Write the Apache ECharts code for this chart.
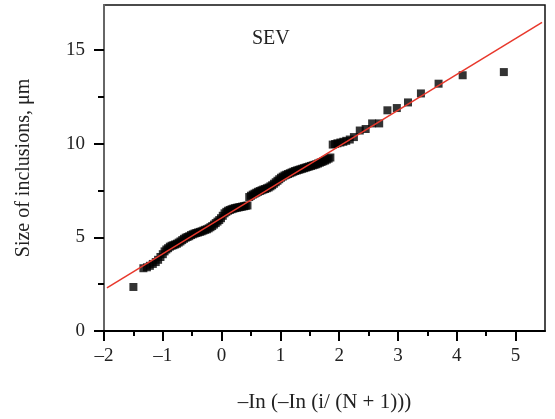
<!DOCTYPE html>
<html>
<head>
<meta charset="utf-8">
<script src="https://cdn.jsdelivr.net/npm/echarts@6/dist/echarts.min.js"></script>
<style>
html,body{margin:0;padding:0;background:#fff;}
#chart{width:555px;height:419px;}
</style>
</head>
<body>
<div id="chart"></div>
<script>
// Reduced variate (x) and inclusion size (y)
var pointsX = [-1.50,
 -1.33,-1.27,-1.22,-1.17,-1.12,-1.08,-1.04,-1.00,-0.97,-0.94,-0.91,-0.88,-0.85,-0.82,-0.79,-0.76,-0.73,-0.70,-0.67,-0.64,
 -0.61,-0.58,-0.55,-0.52,-0.49,-0.46,-0.43,-0.40,-0.37,-0.34,-0.31,-0.28,-0.25,-0.22,-0.19,-0.16,-0.13,-0.10,-0.07,-0.04,
 -0.01,0.02,0.05,0.08,0.11,0.14,0.17,0.20,0.23,0.26,0.29,0.32,0.35,0.38,0.41,0.44,
 0.47,0.50,0.53,0.56,0.59,0.62,0.65,0.68,0.71,0.74,0.77,0.80,0.83,0.86,0.89,0.92,0.95,0.98,
 1.01,1.04,1.07,1.10,1.13,1.16,1.19,1.22,1.25,1.28,1.31,1.34,1.37,1.40,1.43,1.46,1.49,1.52,1.55,1.58,
 1.61,1.64,1.67,1.70,1.73,1.76,1.79,1.82,1.85,
 1.89,1.93,1.97,2.02,2.07,2.12,2.18,2.25,
 2.35,2.45,2.56,2.68,2.82,2.98,3.17,3.39,3.69,4.10,4.80];
var pointsY = [2.35,
 3.35,3.40,3.48,3.58,3.68,3.80,3.95,4.10,4.25,4.35,4.42,4.50,4.55,4.58,4.62,4.66,4.72,4.78,4.85,4.92,
 4.98,5.02,5.06,5.12,5.16,5.20,5.23,5.26,5.29,5.32,5.36,5.40,5.43,5.48,5.54,5.60,5.68,5.76,5.84,5.92,
 6.02,6.15,6.28,6.36,6.42,6.46,6.50,6.53,6.56,6.58,6.60,6.62,6.64,6.66,6.68,6.70,
 7.15,7.22,7.28,7.33,7.38,7.43,7.47,7.51,7.55,7.58,7.62,7.66,7.72,7.78,7.86,7.94,8.02,8.10,
 8.18,8.24,8.30,8.34,8.38,8.42,8.46,8.50,8.54,8.57,8.60,8.63,8.66,8.69,8.72,8.75,8.78,8.81,8.84,8.87,
 8.90,8.94,8.98,9.02,9.06,9.10,9.15,9.20,9.26,
 9.95,9.98,10.02,10.06,10.10,10.15,10.22,10.35,
 10.70,10.78,11.08,11.08,11.78,11.90,12.20,12.68,13.20,13.65,13.82];
// Fitted line end points
var fitX = [-1.95, 5.45];
var fitY = [2.30, 16.47];
// Tick values
var xMajorTicks = [-2,-1,0,1,2,3,4,5];
var xMinorTicks = [-1.5,-0.5,0.5,1.5,2.5,3.5,4.5];
var yMajorTicks = [0,5,10,15];
var yMinorTicks = [2.5,7.5,12.5];

var scatterData = pointsX.map(function(x,i){return [x, pointsY[i]];});
var lineData = fitX.map(function(x,i){return [x, fitY[i]];});

var FONT = '"Liberation Serif","DejaVu Serif",serif';
var GRID_TOP = 5, GRID_BOTTOM = 88, H = 419;
var chart = echarts.init(document.getElementById('chart'));
chart.setOption({
  animation:false,
  title:{text:'SEV', left:247, top:24, textStyle:{fontFamily:FONT, fontSize:20, fontWeight:'normal', color:'#222'}},
  grid:{left:104, right:10, top:GRID_TOP, bottom:GRID_BOTTOM, show:true, borderColor:'#111', borderWidth:1.5},
  xAxis:[{
    type:'value', min:-2, max:5.5, position:'bottom',
    axisLine:{show:true, onZero:false, lineStyle:{color:'black', width:2}},
    axisTick:{show:true, customValues:xMajorTicks, length:10, lineStyle:{color:'black', width:2}},
    axisLabel:{show:true, customValues:xMajorTicks, margin:16, color:'#222', fontFamily:FONT, fontSize:19,
      formatter:function(v){return String(v).replace('-', '\u2013');}},
    splitLine:{show:false},
    name:'\u2013In (\u2013In (i/ (N + 1)))', nameLocation:'middle', nameGap:61,
    nameTextStyle:{color:'#222', fontFamily:FONT, fontSize:21}
  },{
    type:'value', min:-2, max:5.5, position:'top', offset:-(H - GRID_TOP - GRID_BOTTOM),
    axisLine:{show:false, onZero:false},
    axisTick:{show:true, inside:true, customValues:xMinorTicks, length:5, lineStyle:{color:'black', width:2}},
    axisLabel:{show:false},
    splitLine:{show:false}
  }],
  yAxis:[{
    type:'value', min:0, max:17.4, position:'left',
    axisLine:{show:true, onZero:false, lineStyle:{color:'#666', width:2}},
    axisTick:{show:true, customValues:yMajorTicks, length:10, lineStyle:{color:'black', width:2}},
    axisLabel:{show:true, customValues:yMajorTicks, margin:19, color:'#222', fontFamily:FONT, fontSize:19},
    splitLine:{show:false},
    name:'Size of inclusions, \u03bcm', nameLocation:'middle', nameGap:70, nameRotate:90,
    nameTextStyle:{color:'#222', fontFamily:FONT, fontSize:20}
  },{
    type:'value', min:0, max:17.4, position:'left',
    axisLine:{show:false, onZero:false},
    axisTick:{show:true, customValues:yMinorTicks, length:6, lineStyle:{color:'black', width:2}},
    axisLabel:{show:false},
    splitLine:{show:false}
  }],
  series:[{
    type:'scatter', data:scatterData,
    symbol:'rect', symbolSize:8, itemStyle:{color:'#000'}
  },{
    type:'line', data:lineData,
    showSymbol:false, symbol:'none', lineStyle:{color:'#e8382c', width:1.5}
  }]
});
</script>
</body>
</html>
